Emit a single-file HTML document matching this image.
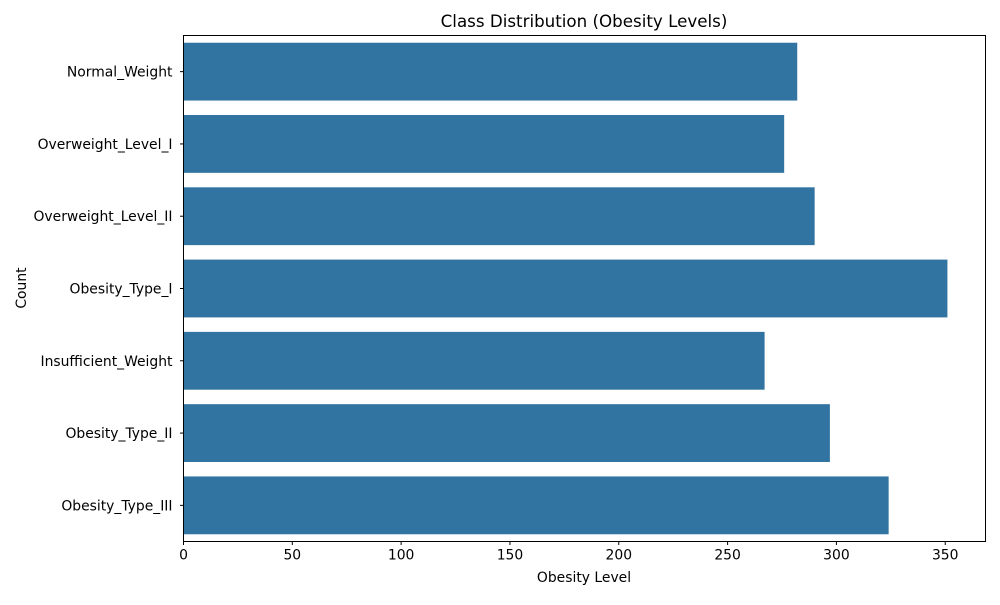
<!DOCTYPE html>
<html><head><meta charset="utf-8"><style>
body{margin:0;background:#fff;}
svg text{font-family:"DejaVu Sans","Liberation Sans",sans-serif;fill:#000;}
</style></head><body>
<svg id="chart" width="1000" height="600" viewBox="0 0 1000 600" xmlns="http://www.w3.org/2000/svg">
<rect width="1000" height="600" fill="#fff"/>
<text x="584" y="27" text-anchor="middle" font-size="16.7">Class Distribution (Obesity Levels)</text>
<text x="584" y="582" text-anchor="middle" font-size="13.9">Obesity Level</text>
<text x="26" y="288" text-anchor="middle" font-size="13.9" transform="rotate(-90 26 288)">Count</text>
<g id="bars"></g><g id="yticks"></g><g id="xticks"></g>
<rect x="183.5" y="35.5" width="802" height="506" fill="none" stroke="#000" stroke-width="1"/>
</svg>
<script>
const categories=["Normal_Weight","Overweight_Level_I","Overweight_Level_II","Obesity_Type_I","Insufficient_Weight","Obesity_Type_II","Obesity_Type_III"];
const counts=[282,276,290,351,267,297,324];
const xTicks=[0,50,100,150,200,250,300,350];
const L=183.5,R=985.5,T=35.5,B=541.5,xMax=368.5;
const ns="http://www.w3.org/2000/svg";
const xs=v=>L+v/xMax*(R-L);
const band=(B-T)/categories.length;
const yc=i=>T+band*(i+0.5);
const bars=document.getElementById('bars'),yt=document.getElementById('yticks'),xt=document.getElementById('xticks');
function mk(tag,attrs,parent){const e=document.createElementNS(ns,tag);for(const k in attrs)e.setAttribute(k,attrs[k]);parent.appendChild(e);return e;}
categories.forEach((c,i)=>{
  const r=mk('rect',{x:L,y:yc(i)-band*0.4,width:xs(counts[i])-L,height:band*0.8,fill:'#3274a1'},bars);
  
  
  const tk=mk('line',{x1:L-3.5,x2:L,y1:yc(i),y2:yc(i),stroke:'#000'},yt);
  
  
  const t=mk('text',{x:L-11,y:yc(i)+5,'text-anchor':'end','font-size':'13.9'},yt);
  t.textContent=c;
  
  
});
xTicks.forEach(v=>{
  const tk=mk('line',{x1:xs(v),x2:xs(v),y1:B,y2:B+3.5,stroke:'#000'},xt);
  
  
  const t=mk('text',{x:xs(v),y:B+18,'text-anchor':'middle','font-size':'13.9'},xt);
  t.textContent=v;
  
  
});
</script>
</body></html>
